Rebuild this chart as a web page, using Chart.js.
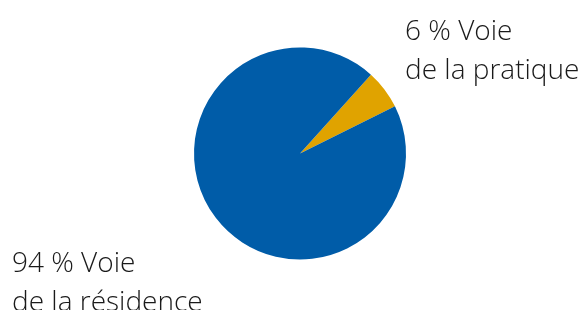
<!DOCTYPE html>
<html>
<head>
<meta charset="utf-8">
<script src="https://cdn.jsdelivr.net/npm/chart.js@4"></script>
<style>
  html, body { margin: 0; padding: 0; background: #fff; }
  #wrap { width: 584px; height: 310px; }
</style>
</head>
<body>
<div id="wrap"><canvas id="chart" width="584" height="310"></canvas></div>
<script>
const categories = ["Voie de la pratique", "Voie de la résidence"];
const values = [6, 94];
const labelLines = [["6 % Voie", "de la pratique"], ["94 % Voie", "de la résidence"]];
const colors = ["#e0a300", "#005ca8"];

// labels are placed by hand next to the pie, like in the original
const labelPos = [{ x: 405, y: 40 }, { x: 12, y: 272 }];

const outsideLabels = {
  id: "outsideLabels",
  afterDraw(chart) {
    const ctx = chart.ctx;
    ctx.save();
    ctx.font = '300 28px "Open Sans"';
    ctx.fillStyle = "#1a1a1a";
    ctx.textBaseline = "alphabetic";
    labelLines.forEach((lines, i) => {
      lines.forEach((line, j) => {
        ctx.fillText(line, labelPos[i].x, labelPos[i].y + j * 39);
      });
    });
    ctx.restore();
  }
};

const chartCtx = document.getElementById("chart").getContext("2d");
const chart = new Chart(chartCtx, {
  type: "pie",
  data: {
    labels: categories,
    datasets: [{
      data: values,
      backgroundColor: colors,
      borderWidth: 0
    }]
  },
  options: {
    responsive: false,
    animation: false,
    rotation: 42,
    layout: { padding: { left: 194, right: 178, top: 47, bottom: 50 } },
    plugins: {
      legend: { display: false },
      tooltip: { enabled: false }
    }
  },
  plugins: [outsideLabels]
});
</script>
</body>
</html>
